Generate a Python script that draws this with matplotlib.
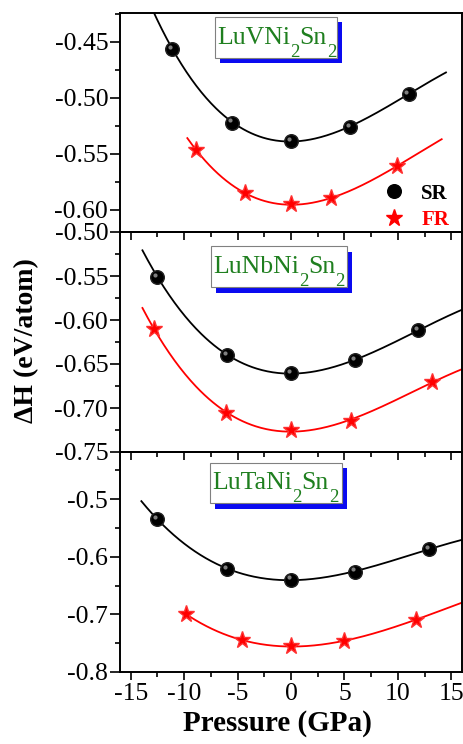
import numpy as np
import matplotlib
matplotlib.use('Agg')
import matplotlib.pyplot as plt
from matplotlib.ticker import MultipleLocator, FormatStrFormatter
from matplotlib.transforms import offset_copy
from matplotlib.patches import Rectangle
from matplotlib.lines import Line2D

plt.rcParams['font.family'] = ['Liberation Serif', 'DejaVu Serif']
plt.rcParams['axes.unicode_minus'] = False

# ---------------- data ----------------
compound_parts = [('LuVNi', 'Sn'), ('LuNbNi', 'Sn'), ('LuTaNi', 'Sn')]
subscript = '2'

sr_p = [[-11.1, -5.5, 0.0, 5.5, 11.0],
        [-12.5, -6.0, 0.0, 6.0, 11.9],
        [-12.5, -6.0, 0.0, 6.0, 12.9]]
sr_h = [[-0.4565, -0.5223, -0.5386, -0.5262, -0.4968],
        [-0.5508, -0.6400, -0.6598, -0.6459, -0.6117],
        [-0.5347, -0.6210, -0.6394, -0.6256, -0.5868]]
fr_p = [[-8.9, -4.3, 0.0, 3.7, 9.9],
        [-12.8, -6.1, 0.0, 5.6, 13.2],
        [-9.8, -4.6, 0.0, 5.0, 11.7]]
fr_h = [[-0.5464, -0.5855, -0.5953, -0.5900, -0.5612],
        [-0.6102, -0.7056, -0.7249, -0.7143, -0.6708],
        [-0.6997, -0.7448, -0.7552, -0.7460, -0.7090]]
sr_fit_range = [(-13.0, 14.5), (-13.9, 16.0), (-14.0, 16.0)]
fr_fit_range = [(-9.7, 14.1), (-13.9, 16.0), (-10.0, 16.0)]

ylims = [(-0.62, -0.4245), (-0.75, -0.50), (-0.80, -0.418)]
ymajor = [0.05, 0.05, 0.1]
yfmt = ['%.2f', '%.2f', '%.1f']
xticks = [-15, -10, -5, 0, 5, 10, 15]

# ---------------- layout (figure pixels) ----------------
FW, FH = 464, 744
AX_L, AX_R = 120, 462
tops = [13, 232, 452]
bots = [232, 452, 672]
# label boxes: (left, right, top, bottom, baseline) in figure pixels
boxes = [(215, 337, 17, 58, 44),
         (210.7, 346.7, 246, 287.3, 273.3),
         (210, 341.7, 462.7, 503.3, 489.3)]
SHADOW = 5.5

fig = plt.figure(figsize=(FW / 100, FH / 100), dpi=100)

axes = []
for i in range(3):
    ax = fig.add_axes([AX_L / FW, 1 - bots[i] / FH, (AX_R - AX_L) / FW,
                       (bots[i] - tops[i]) / FH])
    ax.set_facecolor('none')
    axes.append(ax)


def ax_xy(i, px, py):
    return ((px - AX_L) / (AX_R - AX_L), (bots[i] - py) / (bots[i] - tops[i]))


for i, ax in enumerate(axes):
    for px, py, rng, col in [(sr_p[i], sr_h[i], sr_fit_range[i], 'black'),
                             (fr_p[i], fr_h[i], fr_fit_range[i], 'red')]:
        c = np.polyfit(px, py, 3)
        xx = np.linspace(rng[0], rng[1], 300)
        ax.plot(xx, np.polyval(c, xx), color=col, lw=1.3, zorder=2)
    ax.plot(sr_p[i], sr_h[i], 'o', color='black', ms=9.8, mec='#222222', zorder=3)
    ax.plot(sr_p[i], sr_h[i], 'o', color='#a0a0a0', ms=3, mec='none', alpha=0.8, zorder=4,
            transform=offset_copy(ax.transData, fig, x=-1.5, y=1.5, units='points'))
    ax.plot(fr_p[i], fr_h[i], '*', color='red', ms=12.5, mec='#ff3030', zorder=3)

    ax.set_xlim(-16, 16)
    ax.set_ylim(*ylims[i])
    ax.set_xticks(xticks)
    ax.xaxis.set_minor_locator(MultipleLocator(2.5))
    ax.yaxis.set_major_locator(MultipleLocator(ymajor[i]))
    ax.yaxis.set_minor_locator(MultipleLocator(ymajor[i] / 2))
    ax.yaxis.set_major_formatter(FormatStrFormatter(yfmt[i]))
    ax.tick_params(which='both', direction='out', top=False, right=False, width=1.2)
    ax.tick_params(axis='x', which='major', length=6)
    ax.tick_params(axis='x', which='minor', length=3.5)
    ax.tick_params(axis='y', which='major', length=7.5)
    ax.tick_params(axis='y', which='minor', length=3.6)
    ax.tick_params(axis='y', labelsize=18.5, pad=1)
    ax.tick_params(axis='x', labelsize=18.5, pad=2)
    if i < 2:
        ax.tick_params(axis='x', labelbottom=False)
    for s in ax.spines.values():
        s.set_linewidth(1.4)

    # compound label box with blue shadow
    l, r, t, b, base = boxes[i]
    x0, y0 = ax_xy(i, l, b)
    x1, y1 = ax_xy(i, r, t)
    sx, sy = ax_xy(i, l + SHADOW, b + SHADOW)
    ax.add_patch(Rectangle((sx, sy), x1 - x0, y1 - y0, transform=ax.transAxes,
                           fc='#0a0af0', ec='none', zorder=5))
    ax.add_patch(Rectangle((x0, y0), x1 - x0, y1 - y0, transform=ax.transAxes,
                           fc='white', ec='#808080', lw=0.8, zorder=6))
    tx, ty = ax_xy(i, l + 2.2, base)
    green = '#1f7f1f'
    p1, p2 = compound_parts[i]
    t1 = ax.text(tx, ty, p1, transform=ax.transAxes, ha='left', va='baseline',
                 fontsize=18.5, color=green, zorder=7)
    t2 = ax.annotate(subscript, xy=(1, ty), xycoords=(t1, ax.transAxes),
                     ha='left', va='top', fontsize=13.5, color=green, zorder=7,
                     annotation_clip=False)
    t3 = ax.annotate(p2, xy=(1, ty), xycoords=(t2, ax.transAxes),
                     ha='left', va='baseline', fontsize=18.5, color=green, zorder=7,
                     annotation_clip=False)
    ax.annotate(subscript, xy=(1, ty), xycoords=(t3, ax.transAxes),
                ha='left', va='top', fontsize=13.5, color=green, zorder=7,
                annotation_clip=False)

# legend in top panel
handles = [Line2D([], [], ls='none', marker='o', color='black', ms=9.8),
           Line2D([], [], ls='none', marker='*', color='red', ms=12.5)]
axes[0].legend(handles, ['SR', 'FR'], loc='lower right', frameon=False,
               prop={'weight': 'bold', 'size': 15}, labelcolor=['black', 'red'],
               handletextpad=0.8, labelspacing=0.3, borderaxespad=0.0, borderpad=0.0,
               handlelength=1.0, bbox_to_anchor=(0.962, 0.01))

fig.text(0.057, 0.542, 'ΔH (eV/atom)', rotation=90, ha='center', va='center',
         fontsize=20, fontweight='bold')
fig.text(0.597, 0.028, 'Pressure (GPa)', ha='center', va='center',
         fontsize=21, fontweight='bold')

fig.savefig('out.png', dpi=100)
